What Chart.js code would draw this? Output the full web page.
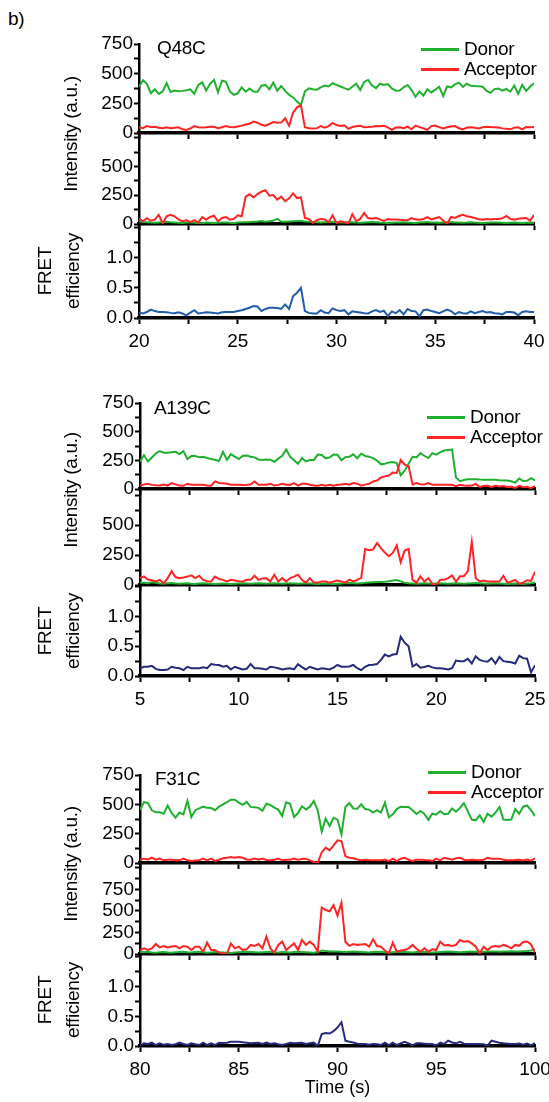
<!DOCTYPE html>
<html>
<head>
<meta charset="utf-8">
<script src="https://cdn.jsdelivr.net/npm/chart.js@4.4.1/dist/chart.umd.min.js"></script>
<style>
  body { margin: 0; background: #fff; }
  #fig { position: relative; width: 549px; height: 1102px; overflow: hidden; color: #000;
         font-family: 'Liberation Sans', Arial, sans-serif; }
  #fig canvas { position: absolute; left: 0; }
  .txt { position: absolute; white-space: nowrap; font-size: 19px; line-height: 20px; letter-spacing: -0.3px; }
  .rot { position: absolute; white-space: nowrap; font-size: 19px; line-height: 28px; text-align: center;
         letter-spacing: -0.3px; transform: translate(-50%, -50%) rotate(-90deg); }
  .key { position: absolute; width: 38px; height: 3px; }
</style>
</head>
<body>
<div id="fig"></div>
<script>
// frames are 0.2 s apart, 101 frames per trace (20 s)
const frameTime = 0.2;

// tick labels
const intensityTicks = [0, 250, 500, 750];
const intensityTicksMid = [0, 250, 500];
const fretTicks = [0, 0.5, 1.0];
const timeTicksQ48C = [20, 25, 30, 35, 40];
const timeTicksA139C = [5, 10, 15, 20, 25];
const timeTicksF31C = [80, 85, 90, 95, 100];

// ---- Q48C ----
const donorQ48C = [
  390,445,415,335,368,330,350,420,345,357,
  352,355,360,368,330,405,427,357,415,447,
  343,441,433,350,322,334,385,348,374,350,
  348,399,405,368,424,357,396,355,322,300,
  265,236,350,377,368,365,385,400,392,419,
  405,392,378,365,390,415,362,430,447,400,
  378,415,405,412,375,357,358,385,405,362,
  305,350,315,368,342,365,390,310,392,385,
  410,424,388,415,398,396,395,390,355,338,
  370,375,357,371,348,400,330,405,355,390,
  420];
const acceptorQ48C = [
  48,40,58,50,53,45,40,48,40,45,
  48,31,25,38,58,48,46,48,52,53,
  40,48,59,50,48,55,62,72,78,96,
  87,70,62,76,92,87,88,124,62,171,
  216,233,48,40,38,39,59,45,58,85,
  67,60,65,35,50,56,60,48,50,53,
  58,56,60,48,26,46,48,40,53,31,
  62,50,39,26,58,62,50,38,48,55,
  58,40,31,46,48,45,39,48,53,50,
  48,46,39,35,31,45,48,30,50,48,
  50];
const acceptorDirectQ48C = [
  44,24,50,28,38,80,5,67,80,67,
  40,25,33,16,33,12,60,38,61,72,
  24,52,61,38,44,75,67,237,258,231,
  260,280,294,245,251,212,237,198,223,266,
  225,231,52,44,10,33,44,40,16,75,
  10,24,16,2,85,24,44,95,52,45,
  52,40,26,44,38,38,36,34,33,52,
  40,38,44,60,40,50,60,30,2,61,
  52,70,80,67,60,52,42,38,44,40,
  44,44,50,70,45,38,45,50,52,30,
  78];
const donorDirectQ48C = [
  25,18,15,12,10,14,18,20,15,12,
  10,8,12,15,10,8,6,12,10,8,
  10,12,14,10,8,12,15,16,18,20,
  22,25,20,24,30,45,22,20,22,24,
  25,26,22,20,18,15,12,15,18,20,
  15,12,14,18,15,12,10,14,16,18,
  15,12,10,8,10,12,14,16,12,10,
  8,12,15,18,14,12,10,14,16,18,
  14,12,10,12,15,12,10,8,10,12,
  14,12,10,8,10,12,10,8,10,12,
  10];
const fretQ48C = [
  .09,.075,.1,.14,.115,.1,.1,.095,.085,.08,
  .095,.075,.045,.09,.13,.075,.085,.095,.09,.085,
  .075,.095,.1,.098,.1,.115,.13,.15,.17,.2,
  .19,.115,.15,.17,.17,.165,.15,.225,.15,.36,
  .42,.5,.115,.085,.075,.075,.13,.09,.08,.16,
  .13,.115,.13,.06,.11,.1,.09,.08,.075,.11,
  .13,.1,.12,.03,.11,.08,.13,.06,.15,.115,
  .11,.03,.13,.14,.115,.1,.08,.11,.14,.115,
  .06,.1,.08,.075,.11,.08,.1,.115,.09,.1,
  .08,.075,.06,.1,.1,.09,.045,.1,.11,.1,
  .1];

// ---- A139C ----
const donorA139C = [
  238,296,240,275,310,330,316,316,320,324,
  304,330,262,287,287,276,281,270,262,255,
  244,324,255,304,282,261,290,292,282,276,
  258,254,258,256,238,265,290,344,282,250,
  220,270,240,252,253,300,296,267,276,300,
  298,250,278,282,302,268,308,288,282,270,
  248,215,220,232,236,226,120,160,220,281,
  276,314,290,270,312,300,320,336,340,344,
  100,68,78,84,86,86,82,80,80,80,
  80,76,75,75,68,55,92,70,72,95,
  75];
const acceptorA139C = [
  30,38,46,36,32,30,38,30,52,40,
  30,28,46,38,37,36,37,30,29,66,
  52,50,46,38,36,38,35,37,40,66,
  37,36,38,46,30,36,46,38,36,52,
  30,45,46,37,30,28,37,29,37,29,
  37,40,46,37,52,46,28,38,46,66,
  74,100,110,118,144,140,253,212,198,40,
  52,42,40,52,37,37,36,37,37,37,
  25,36,30,29,30,45,18,26,29,18,
  28,22,26,18,20,10,28,15,20,8,
  25];
const acceptorDirectA139C = [
  57,72,45,40,30,42,14,57,115,66,
  57,63,70,80,57,77,43,32,29,70,
  50,43,29,43,38,32,30,43,43,77,
  43,55,57,29,86,29,57,29,57,70,
  86,43,20,57,20,20,29,29,20,29,
  37,29,20,45,29,43,60,300,290,296,
  350,307,270,240,267,330,190,287,301,43,
  20,72,29,57,10,0,43,43,57,80,
  29,72,72,115,360,57,29,37,29,29,
  29,29,77,20,29,43,10,20,40,35,
  110];
const donorDirectA139C = [
  20,18,15,22,18,12,10,14,16,12,
  10,12,14,10,8,12,15,12,10,8,
  10,12,10,8,10,12,14,12,10,12,
  14,12,10,12,14,12,10,12,14,12,
  10,12,14,12,10,8,10,12,10,8,
  10,12,14,16,14,12,15,18,20,22,
  24,26,28,32,38,42,30,18,14,12,
  10,12,14,12,10,12,14,12,10,12,
  14,12,10,12,14,16,14,12,10,12,
  14,12,10,8,10,12,10,8,12,15,
  20];
const fretA139C = [
  .13,.155,.155,.17,.12,.1,.1,.11,.155,.14,
  .13,.1,.155,.13,.13,.13,.145,.13,.2,.19,
  .185,.155,.17,.11,.155,.13,.11,.12,.2,.13,
  .13,.12,.11,.155,.145,.13,.11,.12,.13,.11,
  .2,.15,.11,.155,.13,.11,.13,.12,.11,.14,
  .185,.155,.155,.16,.185,.13,.1,.155,.185,.19,
  .2,.27,.36,.33,.36,.37,.66,.56,.5,.16,
  .2,.14,.15,.17,.145,.13,.13,.12,.11,.13,
  .26,.25,.25,.29,.21,.33,.27,.25,.24,.3,
  .21,.32,.25,.24,.23,.21,.34,.3,.29,.06,
  .18];

// ---- F31C ----
const donorF31C = [
  454,518,512,449,432,432,420,490,426,386,
  430,415,530,392,450,465,480,470,468,450,
  480,500,518,540,540,515,495,520,478,475,
  470,445,505,495,472,455,400,517,505,392,
  426,483,456,480,528,450,268,378,315,386,
  370,244,477,511,465,463,500,460,455,430,
  450,430,515,390,415,460,480,478,477,450,
  418,443,418,368,420,412,443,415,420,465,
  438,470,510,440,370,364,406,350,420,395,
  430,477,370,366,370,460,420,480,490,450,
  400];
const acceptorF31C = [
  28,37,30,45,28,37,23,28,28,26,
  23,37,23,17,22,23,37,23,37,17,
  28,40,45,51,45,51,45,30,28,37,
  28,37,25,23,28,37,23,28,28,37,
  28,35,37,23,9,2,90,131,108,150,
  193,187,57,45,40,30,23,28,25,23,
  23,23,28,17,37,17,37,45,28,17,
  28,28,25,23,17,37,23,45,37,28,
  40,45,28,23,28,25,23,28,45,37,
  37,37,28,23,23,25,28,22,30,20,
  40];
const acceptorDirectF31C = [
  46,66,46,66,116,77,93,77,88,93,
  66,93,85,46,85,85,27,132,46,46,
  16,5,0,123,66,85,46,54,105,93,
  116,66,201,66,16,105,143,46,85,123,
  46,162,105,143,105,30,540,510,495,565,
  445,595,140,95,116,104,110,116,85,170,
  93,85,40,8,132,27,40,46,66,105,
  60,27,66,27,54,46,143,100,105,93,
  105,162,143,150,123,85,8,85,46,85,
  93,85,105,90,66,105,95,140,145,110,
  15];
const donorDirectF31C = [
  20,22,25,18,15,20,22,18,15,20,
  22,25,20,18,22,25,20,15,18,22,
  20,18,15,12,18,20,22,25,22,20,
  18,20,22,25,20,18,22,20,18,22,
  25,22,20,18,15,22,40,35,30,28,
  30,25,22,25,28,25,22,20,18,22,
  25,22,20,18,20,22,25,22,20,18,
  22,25,22,20,18,20,22,25,28,25,
  22,20,22,25,28,25,22,25,28,30,
  28,25,28,30,32,30,28,32,35,40,
  55];
const fretF31C = [
  0,.045,.034,.056,.017,.045,.02,.034,.017,.03,
  .056,.034,.017,.045,.03,.017,.056,.017,.045,.017,
  .056,.05,.056,.073,.07,.073,.065,.056,.045,.05,
  .056,.034,.056,.034,.045,.03,.017,.034,.056,.045,
  .05,.056,.034,.045,.056,0,.2,.22,.21,.25,
  .31,.4,.09,.073,.06,.04,.034,.034,.02,.034,
  .03,.017,.056,.017,.056,.017,.045,.07,.045,.01,
  .045,.045,.04,.034,.034,.005,.056,.034,.09,.06,
  .045,.07,.04,.034,.034,.034,.034,.03,.005,.09,
  .073,.056,.045,.04,.034,.034,.04,.02,.04,.01,
  .05];

const GREEN = '#1eb02e';
const RED = '#ff2424';
const BLUE = '#1f5dab';
const NAVY = '#262a7c';
const FONT = "'Liberation Sans', Arial, sans-serif";
Chart.defaults.font.family = FONT;
Chart.defaults.color = '#000';

const fig = document.getElementById('fig');
const padTop = 12;

// three stacked panels per construct; px values are layout only
const panels = [
  { t0: 20, xt: timeTicksQ48C, left: 139, right: 534, top: 44, bottom: 133, max: 750, step: 125, yt: intensityTicks,
    series: [[acceptorQ48C, RED], [donorQ48C, GREEN]], below: 8 },
  { t0: 20, xt: timeTicksQ48C, left: 139, right: 534, top: 133, bottom: 224, max: 790, step: 125, yt: intensityTicksMid,
    series: [[acceptorDirectQ48C, RED], [donorDirectQ48C, GREEN]], below: 8 },
  { t0: 20, xt: timeTicksQ48C, left: 139, right: 534, top: 224, bottom: 318, max: 1.56, step: 0.25, yt: fretTicks, fret: true,
    series: [[fretQ48C, BLUE]], below: 34, labels: true },

  { t0: 5, xt: timeTicksA139C, left: 140, right: 535, top: 403, bottom: 489, max: 750, step: 125, yt: intensityTicks,
    series: [[acceptorA139C, RED], [donorA139C, GREEN]], below: 8 },
  { t0: 5, xt: timeTicksA139C, left: 140, right: 535, top: 489, bottom: 585, max: 800, step: 125, yt: intensityTicksMid,
    series: [[acceptorDirectA139C, RED], [donorDirectA139C, GREEN]], below: 8 },
  { t0: 5, xt: timeTicksA139C, left: 140, right: 535, top: 585, bottom: 676, max: 1.53, step: 0.25, yt: fretTicks, fret: true,
    series: [[fretA139C, NAVY]], below: 34, labels: true },

  { t0: 80, xt: timeTicksF31C, left: 140, right: 535, top: 775, bottom: 863, max: 750, step: 125, yt: intensityTicks,
    series: [[acceptorF31C, RED], [donorF31C, GREEN]], below: 8 },
  { t0: 80, xt: timeTicksF31C, left: 140, right: 535, top: 863, bottom: 954, max: 1055, step: 125, yt: intensityTicks,
    series: [[acceptorDirectF31C, RED], [donorDirectF31C, GREEN]], below: 8 },
  { t0: 80, xt: timeTicksF31C, left: 140, right: 535, top: 954, bottom: 1046, max: 1.55, step: 0.25, yt: fretTicks, fret: true,
    series: [[fretF31C, NAVY]], below: 53, labels: true, title: 'Time (s)' }
];

const near = (list, v) => list.some(l => Math.abs(l - v) < 1e-6);

panels.forEach(p => {
  const c = document.createElement('canvas');
  c.width = 549;
  c.height = p.bottom - p.top + padTop + p.below;
  c.style.top = (p.top - padTop) + 'px';
  fig.appendChild(c);

  new Chart(c, {
    type: 'line',
    data: {
      datasets: p.series.map(([vals, color]) => ({
        data: vals.map((v, i) => ({ x: p.t0 + i * frameTime, y: v })),
        borderColor: color,
        borderWidth: 2,
        pointRadius: 0,
        tension: 0,
        fill: false
      }))
    },
    options: {
      responsive: false,
      animation: false,
      events: [],
      layout: { padding: { top: padTop, right: 549 - p.right, left: 0, bottom: 0 } },
      plugins: { legend: { display: false }, tooltip: { enabled: false } },
      scales: {
        x: {
          type: 'linear',
          min: p.t0,
          max: p.t0 + 20,
          afterFit(s) { s.height = p.below; s.paddingLeft = 0; s.paddingRight = 0; },
          border: { display: true, color: '#000', width: 3.5 },
          grid: { drawOnChartArea: false, tickLength: 6, tickWidth: 2, color: '#000' },
          ticks: {
            stepSize: 2.5, autoSkip: false, maxRotation: 0, padding: 6,
            font: { size: 19 },
            callback: v => (p.labels && near(p.xt, v)) ? String(Math.round(v)) : ''
          },
          title: {
            display: !!p.title, text: p.title || '', padding: 0,
            font: { size: 18 }
          }
        },
        y: {
          min: 0,
          max: p.max,
          afterFit(s) { s.width = p.left; s.paddingTop = 0; s.paddingBottom = 0; },
          border: { display: true, color: '#000', width: 2.5 },
          grid: { drawOnChartArea: false, tickLength: 5, tickWidth: 2, color: '#000' },
          ticks: {
            stepSize: p.step, includeBounds: false, autoSkip: false, padding: 1,
            font: { size: 19 },
            callback: v => near(p.yt, v) ? (p.fret ? v.toFixed(1) : String(Math.round(v))) : ''
          }
        }
      }
    }
  });
});

// labels, titles and keys
function text(str, x, y, cls) {
  const d = document.createElement('div');
  d.className = cls || 'txt';
  d.style.left = x + 'px';
  d.style.top = y + 'px';
  d.innerHTML = str;
  fig.appendChild(d);
}
function key(color, x, y) {
  const d = document.createElement('div');
  d.className = 'key';
  d.style.left = x + 'px';
  d.style.top = (y - 1.5) + 'px';
  d.style.background = color;
  fig.appendChild(d);
}

text('b)', 8, 9);

const headers = [
  { name: 'Q48C', tx: 157, ty: 38, kx: 421, ky: 49, split: 134, fretY: 271 },
  { name: 'A139C', tx: 154, ty: 398, kx: 427, ky: 417, split: 490, fretY: 631 },
  { name: 'F31C', tx: 155, ty: 769, kx: 428, ky: 772, split: 864, fretY: 1000 }
];
headers.forEach(h => {
  text(h.name, h.tx, h.ty);
  key(GREEN, h.kx, h.ky);
  key(RED, h.kx, h.ky + 20);
  text('Donor', h.kx + 43, h.ky - 10);
  text('Acceptor', h.kx + 43, h.ky + 10);
  text('Intensity (a.u.)', 71, h.split, 'rot');
  text('FRET<br>efficiency', 59, h.fretY, 'rot');
});
</script>
</body>
</html>
